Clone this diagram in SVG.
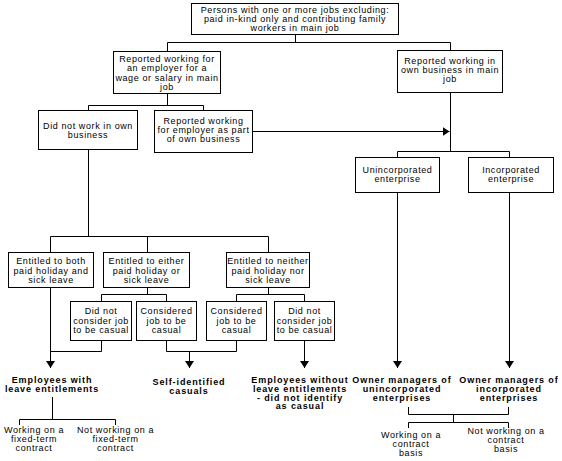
<svg xmlns="http://www.w3.org/2000/svg" width="562" height="461" viewBox="0 0 562 461">
<style>
rect.box{fill:#fff;stroke:#000;stroke-width:1}
.t{font-family:"Liberation Sans",Arial,sans-serif;font-size:9px;letter-spacing:0.6px;text-anchor:middle;fill:#000}
.b{font-family:"Liberation Sans",Arial,sans-serif;font-size:9px;font-weight:bold;letter-spacing:0.9px;text-anchor:middle;fill:#000}
#connectors path{fill:none;stroke:#000;stroke-width:1}
</style>
<defs>
<marker id="ah" markerUnits="userSpaceOnUse" viewBox="0 0 7 9" markerWidth="7" markerHeight="9" refX="7" refY="4.5" orient="auto">
<path d="M0,0 L7,4.5 L0,9 z" fill="#000"/>
</marker>
</defs>
<rect width="562" height="461" fill="#fff"/>
<g id="connectors">
<path d="M295.5,34.5 V42.5 M167.5,51.5 V42.5 H450.5 V50.5"/>
<path d="M167.5,93.5 V105.5 M88.5,110.5 V105.5 H203.5 V110.5"/>
<path d="M252.5,131.5 H449.5" marker-end="url(#ah)"/>
<path d="M450.5,92.5 V151.5 M397.5,157.5 V151.5 H509.5 V157.5"/>
<path d="M88.5,149.5 V236.5 M50.5,252.5 V236.5 H268.5 V252.5 M147.5,236.5 V252.5"/>
<path d="M147.5,287.5 V294.5 M101.5,301.5 V294.5 H166.5 V301.5"/>
<path d="M268.5,287.5 V294.5 M236.5,301.5 V294.5 H304.5 V301.5"/>
<path d="M50.5,287.5 V368" marker-end="url(#ah)"/>
<path d="M101.5,340.5 V351.5 H50.5"/>
<path d="M166.5,340.5 V351.5 H236.5 V340.5"/>
<path d="M189.5,351.5 V368" marker-end="url(#ah)"/>
<path d="M304.5,340.5 V368" marker-end="url(#ah)"/>
<path d="M397.5,192.5 V368" marker-end="url(#ah)"/>
<path d="M509.5,192.5 V368" marker-end="url(#ah)"/>
<path d="M52.5,397 V419.5 M19.5,425 V419.5 H115.5 V425"/>
<path d="M408.5,407 V414.5 H508.5 V407 M453.5,414.5 V422.5 M408.5,428 V422.5 H508.5 V428"/>
</g>
<g id="n-top"><rect class="box" x="191.5" y="3.5" width="207" height="31"/>
<text class="t" x="295" y="12.5">Persons with one or more jobs excluding:</text>
<text class="t" x="295" y="21.7">paid in-kind only and contributing family</text>
<text class="t" x="295" y="30.8">workers in main job</text></g>
<g id="n-wage"><rect class="box" x="113.5" y="51.5" width="107" height="42"/>
<text class="t" x="167" y="62">Reported working for</text>
<text class="t" x="167" y="71.3">an employer for a</text>
<text class="t" x="167" y="80.6">wage or salary in main</text>
<text class="t" x="167" y="89.9">job</text></g>
<g id="n-own"><rect class="box" x="397.5" y="50.5" width="105" height="42"/>
<text class="t" x="450" y="63.5">Reported working in</text>
<text class="t" x="450" y="72.7">own business in main</text>
<text class="t" x="450" y="82">job</text></g>
<g id="n-didnot"><rect class="box" x="38.5" y="110.5" width="99" height="39"/>
<text class="t" x="88" y="128.5">Did not work in own</text>
<text class="t" x="88" y="137.5">business</text></g>
<g id="n-repemp"><rect class="box" x="154.5" y="110.5" width="98" height="42"/>
<text class="t" x="203.5" y="124">Reported working</text>
<text class="t" x="203.5" y="133">for employer as part</text>
<text class="t" x="203.5" y="142">of own business</text></g>
<g id="n-uninc"><rect class="box" x="355.5" y="157.5" width="84" height="35"/>
<text class="t" x="397.5" y="173">Unincorporated</text>
<text class="t" x="397.5" y="182">enterprise</text></g>
<g id="n-inc"><rect class="box" x="468.5" y="157.5" width="85" height="35"/>
<text class="t" x="511" y="173">Incorporated</text>
<text class="t" x="511" y="182">enterprise</text></g>
<g id="n-both"><rect class="box" x="8.5" y="252.5" width="85" height="35"/>
<text class="t" x="51" y="264">Entitled to both</text>
<text class="t" x="51" y="273.5">paid holiday and</text>
<text class="t" x="51" y="283">sick leave</text></g>
<g id="n-either"><rect class="box" x="103.5" y="252.5" width="86" height="35"/>
<text class="t" x="146.5" y="264">Entitled to either</text>
<text class="t" x="146.5" y="273.5">paid holiday or</text>
<text class="t" x="146.5" y="283">sick leave</text></g>
<g id="n-neither"><rect class="box" x="226.5" y="252.5" width="83" height="35"/>
<text class="t" x="268" y="264">Entitled to neither</text>
<text class="t" x="268" y="273.5">paid holiday nor</text>
<text class="t" x="268" y="283">sick leave</text></g>
<g id="n-dnc1"><rect class="box" x="70.5" y="301.5" width="61" height="39"/>
<text class="t" x="101" y="314">Did not</text>
<text class="t" x="101" y="323.5">consider job</text>
<text class="t" x="101" y="332.5">to be casual</text></g>
<g id="n-cons1"><rect class="box" x="136.5" y="301.5" width="60" height="39"/>
<text class="t" x="166.5" y="314">Considered</text>
<text class="t" x="166.5" y="323.5">job to be</text>
<text class="t" x="166.5" y="332.5">casual</text></g>
<g id="n-cons2"><rect class="box" x="206.5" y="301.5" width="60" height="39"/>
<text class="t" x="236.5" y="314">Considered</text>
<text class="t" x="236.5" y="323.5">job to be</text>
<text class="t" x="236.5" y="332.5">casual</text></g>
<g id="n-dnc2"><rect class="box" x="274.5" y="301.5" width="60" height="39"/>
<text class="t" x="304.5" y="314">Did not</text>
<text class="t" x="304.5" y="323.5">consider job</text>
<text class="t" x="304.5" y="332.5">to be casual</text></g>
<g id="n-empwith">
<text class="b" x="52" y="383">Employees with</text>
<text class="b" x="52" y="392">leave entitlements</text></g>
<g id="n-selfid">
<text class="b" x="189" y="385">Self-identified</text>
<text class="b" x="189" y="394">casuals</text></g>
<g id="n-empwithout">
<text class="b" x="300" y="383">Employees without</text>
<text class="b" x="300" y="391.8">leave entitlements</text>
<text class="b" x="300" y="400.6">- did not identify</text>
<text class="b" x="300" y="409.4">as casual</text></g>
<g id="n-ownuninc">
<text class="b" x="402" y="383">Owner managers of</text>
<text class="b" x="402" y="391.8">unincorporated</text>
<text class="b" x="402" y="400.6">enterprises</text></g>
<g id="n-owninc">
<text class="b" x="509" y="383">Owner managers of</text>
<text class="b" x="509" y="391.8">incorporated</text>
<text class="b" x="509" y="400.6">enterprises</text></g>
<g id="n-fixed">
<text class="t" x="34" y="433">Working on a</text>
<text class="t" x="34" y="442">fixed-term</text>
<text class="t" x="34" y="451">contract</text></g>
<g id="n-notfixed">
<text class="t" x="115.5" y="433">Not working on a</text>
<text class="t" x="115.5" y="442">fixed-term</text>
<text class="t" x="115.5" y="451">contract</text></g>
<g id="n-contract">
<text class="t" x="411" y="438">Working on a</text>
<text class="t" x="411" y="447">contract</text>
<text class="t" x="411" y="456">basis</text></g>
<g id="n-notcontract">
<text class="t" x="506" y="434">Not working on a</text>
<text class="t" x="506" y="443">contract</text>
<text class="t" x="506" y="452">basis</text></g>
</svg>
